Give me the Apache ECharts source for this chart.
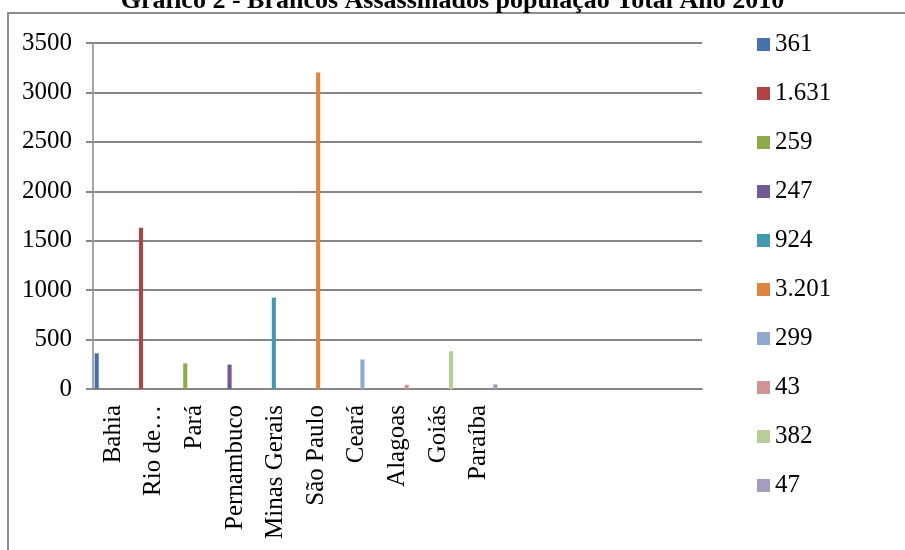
<!DOCTYPE html>
<html>
<head>
<meta charset="utf-8">
<script src="https://cdn.jsdelivr.net/npm/echarts@6/dist/echarts.min.js"></script>
<style>
  html, body { margin: 0; padding: 0; background: #fff; }
  #main { width: 905px; height: 550px; }
</style>
</head>
<body>
<div id="main"></div>
<script>
// estados (as 5 últimas categorias ficam vazias, como no gráfico original)
const states = ['Bahia', 'Rio de Janeiro', 'Pará', 'Pernambuco', 'Minas Gerais', 'São Paulo', 'Ceará', 'Alagoas', 'Goiás', 'Paraíba', '', '', '', '', ''];
// uma série por estado, o nome da série é o valor
const seriesNames = ['361', '1.631', '259', '247', '924', '3.201', '299', '43', '382', '47'];
const values = [361, 1631, 259, 247, 924, 3201, 299, 43, 382, 47];
const colors = ['#4672AC', '#AE4544', '#8DAA4D', '#725A97', '#4399B2', '#DE843E', '#92A9CF', '#D09394', '#B9CD97', '#A89BC0'];

const font = 'Liberation Serif, Times New Roman, serif';
const gridColor = '#868686';

const series = seriesNames.map((name, i) => {
  const data = states.map((s, j) => (j === i ? values[i] : '-'));
  return {
    name: name,
    type: 'bar',
    data: data,
    barGap: '-10%',
    barCategoryGap: '8%',
    itemStyle: { color: colors[i] },
  };
});

const option = {
  animation: false,
  title: {
    text: 'Gráfico 2 - Brancos Assassinados população Total Ano 2010',
    left: 'center',
    top: -17,
    textStyle: { fontFamily: font, fontSize: 26, fontWeight: 'bold', color: '#000', lineHeight: 26 },
  },
  graphic: [
    {
      type: 'rect',
      shape: { x: 8, y: 13, width: 1000, height: 1000 },
      style: { fill: 'none', stroke: '#8c8c8c', lineWidth: 2 },
      z: -1,
    },
  ],
  legend: {
    orient: 'vertical',
    left: 752,
    top: 27,
    icon: 'rect',
    itemWidth: 13,
    itemHeight: 13,
    itemGap: 24,
    textStyle: { fontFamily: font, fontSize: 25, color: '#000', lineHeight: 25 },
    data: seriesNames,
  },
  grid: { left: 93, right: 203, top: 43, bottom: 161, containLabel: false },
  xAxis: {
    type: 'category',
    data: states,
    axisLine: { lineStyle: { color: gridColor, width: 2 } },
    axisTick: { length: 8, lineStyle: { color: gridColor, width: 2 } },
    axisLabel: {
      rotate: 90,
      margin: 16,
      interval: 0,
      fontFamily: font,
      fontSize: 25,
      color: '#000',
      // o Excel cortou o nome do Rio de Janeiro
      formatter: (v) => (v === 'Rio de Janeiro' ? 'Rio de…' : v),
    },
  },
  yAxis: {
    type: 'value',
    min: 0,
    max: 3500,
    interval: 500,
    axisLine: { show: true, lineStyle: { color: '#a6a6a6', width: 2 } },
    axisTick: { show: true, length: 7, lineStyle: { color: gridColor, width: 2 } },
    splitLine: { lineStyle: { color: gridColor, width: 2 } },
    axisLabel: { margin: 21, fontFamily: font, fontSize: 25, color: '#000', formatter: (v) => String(v) },
  },
  series: series,
};

const chart = echarts.init(document.getElementById('main'));
chart.setOption(option);
</script>
</body>
</html>
